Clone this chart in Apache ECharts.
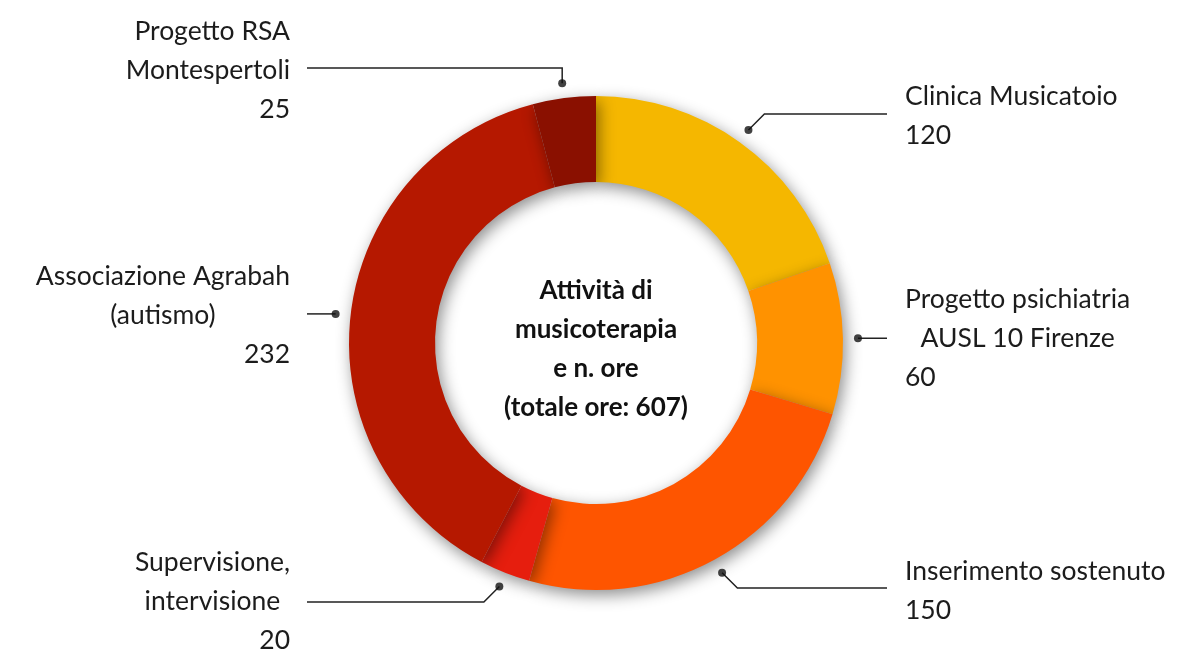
<!DOCTYPE html>
<html>
<head>
<meta charset="utf-8">
<script src="https://cdn.jsdelivr.net/npm/echarts@6/dist/echarts.min.js"></script>
<style>
  html, body { margin: 0; padding: 0; background: #fff; }
  #chart { width: 1179px; height: 652px; }
</style>
</head>
<body>
<div id="chart"></div>
<script>
// chart data
const categories = [
  'Clinica Musicatoio',
  'Progetto psichiatria\nAUSL 10 Firenze',
  'Inserimento sostenuto',
  'Supervisione,\nintervisione',
  'Associazione Agrabah\n(autismo)',
  'Progetto RSA\nMontespertoli'
]
const hours = [120, 60, 150, 20, 232, 25]
const colors = ['#F5B700', '#FF9200', '#FE5500', '#E61E0E', '#B51800', '#8A1000']

const total = hours.reduce((a, b) => a + b, 0)
// middle of each slice, in hours along the ring -> where the leader dots sit
const midHours = hours.map((h, i) => hours.slice(0, i).reduce((a, b) => a + b, 0) + h / 2)

const cx = 596, cy = 343
const dotR = 262
const font = 'Lato'

// label placement (layout only)
const spots = [
  { side: 'R', x: 905, top: 77, lineY: 114, name: 'l' },
  { side: 'R', x: 905, top: 280, lineY: null, name: 'c' },
  { side: 'R', x: 905, top: 552, lineY: 588, name: 'l' },
  { side: 'L', x: 290, top: 543, lineY: 602, name: 'c' },
  { side: 'L', x: 290, top: 257, lineY: null, name: 'c' },
  { side: 'L', x: 290, top: 12, lineY: 68, name: 'r', vertical: true }
]

const anchorPoint = (i) => {
  const a = midHours[i] / total * Math.PI * 2
  return [cx + dotR * Math.sin(a), cy - dotR * Math.cos(a)]
}

const txt = (align) => ({
  fontFamily: font, fontSize: 26.5, lineHeight: 39, color: '#1c1c1c', align: align
})

const chart = echarts.init(document.getElementById('chart'))

chart.setOption({
  animation: false,
  polar: { center: [cx, cy], radius: dotR },
  angleAxis: { type: 'value', min: 0, max: total, startAngle: 90, clockwise: true, show: false },
  radiusAxis: { type: 'value', min: 0, max: 1, show: false },
  graphic: [{
    type: 'text',
    x: cx,
    y: 349,
    z: 100,
    style: {
      text: 'Attività di\nmusicoterapia\ne n. ore\n(totale ore: ' + total + ')',
      font: 'bold 26px ' + font,
      lineHeight: 39,
      textAlign: 'center',
      textVerticalAlign: 'middle',
      fill: '#111'
    }
  }],
  series: [
    {
      type: 'pie',
      center: [cx, cy],
      radius: [161, 247],
      startAngle: 90,
      clockwise: true,
      silent: true,
      itemStyle: {
        shadowBlur: 16,
        shadowColor: 'rgba(0,0,0,0.45)',
        shadowOffsetX: 3,
        shadowOffsetY: 5
      },
      label: {
        show: true,
        formatter: (p) => {
          const s = spots[p.dataIndex]
          const names = p.name.split('\n').map(l => '{' + s.name + '|' + l + '}')
          return names.join('\n') + '\n{' + (s.side === 'R' ? 'vl' : 'vr') + '|' + p.value + '}'
        },
        rich: {
          l: txt('left'),
          c: txt('center'),
          r: txt('right'),
          vl: txt('left'),
          vr: txt('right')
        }
      },
      labelLine: {
        show: true,
        lineStyle: { color: '#222', width: 1.5 }
      },
      labelLayout: (params) => {
        const i = params.dataIndex
        const s = spots[i]
        const d = anchorPoint(i)
        const endX = s.side === 'R' ? 887 : 307
        let pts
        if (s.lineY === null) {
          pts = [d, [(d[0] + endX) / 2, d[1]], [endX, d[1]]]
        } else if (s.vertical) {
          pts = [d, [d[0], s.lineY], [endX, s.lineY]]
        } else {
          const dy = Math.abs(s.lineY - d[1])
          const ex = s.side === 'R' ? d[0] + dy : d[0] - dy
          pts = [d, [ex, s.lineY], [endX, s.lineY]]
        }
        return {
          x: s.x,
          y: s.top,
          align: s.side === 'R' ? 'left' : 'right',
          verticalAlign: 'top',
          labelLinePoints: pts
        }
      },
      data: categories.map((name, i) => ({
        name: name,
        value: hours[i],
        itemStyle: { color: colors[i] }
      }))
    },
    {
      type: 'scatter',
      coordinateSystem: 'polar',
      symbolSize: 8,
      silent: true,
      z: 10,
      itemStyle: { color: '#111' },
      data: midHours.map(m => [1, m])
    }
  ]
})
</script>
</body>
</html>
